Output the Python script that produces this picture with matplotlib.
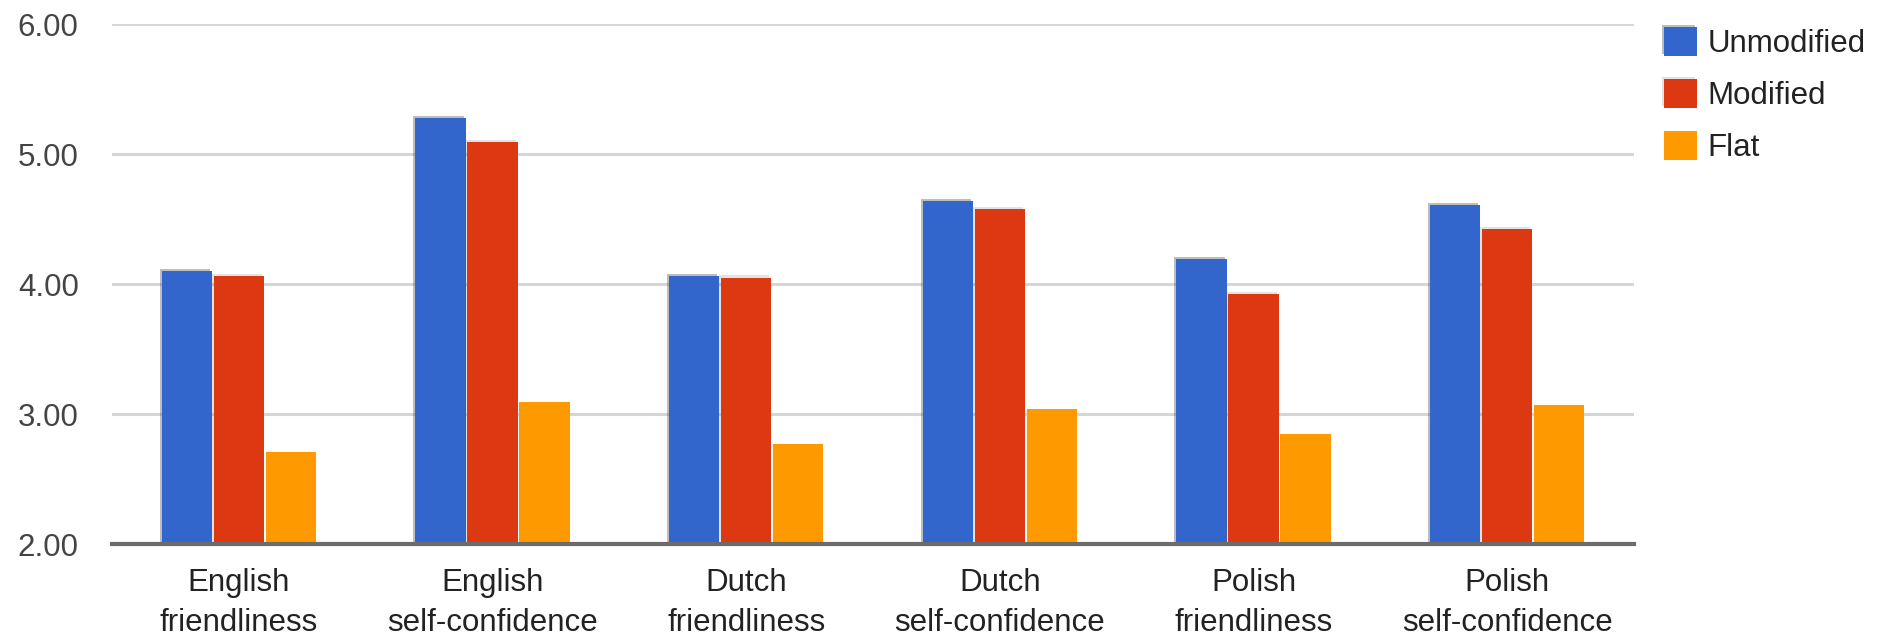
import numpy as np
import matplotlib
matplotlib.use("Agg")
import matplotlib.pyplot as plt
import matplotlib.patheffects as pe

plt.rcParams['font.family'] = ['Liberation Sans', 'DejaVu Sans']

categories = ["English\nfriendliness", "English\nself-confidence",
              "Dutch\nfriendliness", "Dutch\nself-confidence",
              "Polish\nfriendliness", "Polish\nself-confidence"]
unmodified = [4.10, 5.28, 4.06, 4.64, 4.19, 4.61]
modified = [4.06, 5.09, 4.05, 4.58, 3.92, 4.42]
flat = [2.71, 3.09, 2.77, 3.04, 2.85, 3.07]
series_names = ["Unmodified", "Modified", "Flat"]
colors = ["#3366CC", "#DC3912", "#FF9900"]
y_ticks = [2.0, 3.0, 4.0, 5.0, 6.0]

fig = plt.figure(figsize=(18.77, 6.39), dpi=100)
ax = fig.add_axes([112 / 1877, 1 - 544 / 639, (1634 - 112) / 1877, (544 - 24) / 639])

x = np.arange(len(categories))
pitch = 0.205
width = 0.198
series = [unmodified, modified, flat]
for i, (vals, name, col) in enumerate(zip(series, series_names, colors)):
    offs = (i - 1) * pitch
    heights = np.array(vals) - 2.0
    bars = ax.bar(x + offs, heights, width, bottom=2.0, color=col,
                  label=name, zorder=3, linewidth=0)
    if i < 2:
        for b in bars:
            b.set_path_effects([pe.SimplePatchShadow(offset=(-1.5, 1.5),
                                                     shadow_rgbFace='#444444',
                                                     alpha=0.35 if i == 0 else 0.15),
                                pe.Normal()])

ax.set_xlim(-0.5, len(categories) - 0.5)
ax.set_ylim(2.0, 6.0)
ax.set_yticks(y_ticks)
ax.set_yticklabels([f"{v:.2f}" for v in y_ticks])
ax.set_xticks(x)
ax.set_xticklabels(categories, linespacing=1.45)

ax.yaxis.grid(True, color='#d6d6d6', linewidth=2.2, zorder=0)
ax.set_axisbelow(True)
for s in ['top', 'right', 'left']:
    ax.spines[s].set_visible(False)
ax.spines['bottom'].set_color('#6b6b6b')
ax.spines['bottom'].set_linewidth(3)
ax.spines['bottom'].set_zorder(4)

ax.tick_params(axis='y', length=0, pad=24, labelsize=22.5, labelcolor='#444444')
ax.tick_params(axis='x', length=0, pad=17, labelsize=22.5, labelcolor='#222222')

leg = fig.legend(loc='upper left', bbox_to_anchor=(1664 / 1877, 1 - 27 / 639),
                 frameon=False, fontsize=22.5, handlelength=1.05, handleheight=1.05,
                 handletextpad=0.35, labelspacing=0.64, borderpad=0,
                 borderaxespad=0)
for t in leg.get_texts():
    t.set_color('#222222')

fig.savefig("out.png", dpi=100, facecolor='white')
